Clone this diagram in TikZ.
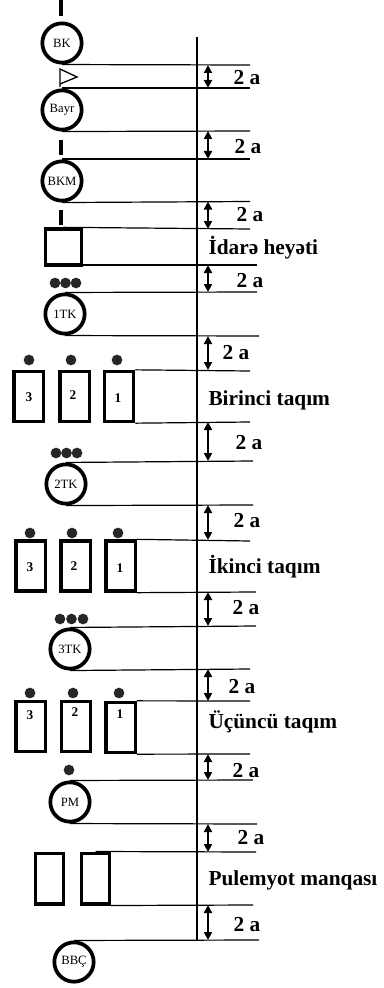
\documentclass[tikz,border=0pt]{standalone}
\usepackage{fontspec}
\setmainfont{Liberation Serif}
\usetikzlibrary{arrows.meta}

\tikzset{every picture/.style={line width=0.75pt}}
\tikzset{
  post/.style={circle,draw,line width=2.8pt,minimum size=29.5pt,inner sep=0pt,font=\fontsize{9.5}{10}\selectfont},
  carbox/.style={draw,line width=2.5pt,minimum width=22pt,minimum height=37.5pt,inner sep=0pt},
  mgbox/.style={draw,line width=2.5pt,minimum width=21pt,minimum height=38pt,inner sep=0pt},
  man/.style={circle,fill=black!85,minimum size=8pt,inner sep=0pt},
  num/.style={inner sep=0pt,font=\bfseries\fontsize{10}{10}\selectfont},
  rowline/.style={line width=0.9pt},
  gap/.style={{Triangle[width=6pt,length=6pt]}-{Triangle[width=6pt,length=6pt]},line width=1.5pt},
  gaptext/.style={anchor=west,inner sep=0pt,font=\bfseries\fontsize{16}{16}\selectfont},
  unittext/.style={anchor=west,inner sep=0pt,font=\bfseries\fontsize{16}{16}\selectfont}
}

\begin{document}
\begin{tikzpicture}[x=0.75pt,y=0.75pt,yscale=-1,xscale=1]
\useasboundingbox (0,0) rectangle (384,988);

%Straight Lines (axis)
\draw [line width=1.1pt] (197,37) -- (197,940) ;

%Shape: Circle  BK
\draw [line width=3.5pt] (61,0) -- (61,16) ;
\node [post] (bk) at (62,43) {BK};
\draw [rowline] (bk.south) -- (250,65) ;
%Flag
\draw [line width=1pt] (60,87) -- (60,69) -- (77,77) -- (60,84) ;
\draw [rowline] (62,88) -- (250,88) ;
\draw [gap] (208,65) -- (208,88) ;
\node [gaptext] (g1) at (233,78) {2 a};

%Shape: Circle  Bayr
\node [post] (bayr) at (62,110) {Bayr};
\draw [rowline] (bayr.south) -- (250,131) ;
\draw [line width=3.5pt] (61,140) -- (61,155) ;
\draw [gap] (208,131) -- (208,159) ;
\node [gaptext] (g2) at (234,147) {2 a};

%Shape: Circle  BKM
\draw [rowline] (62,159) -- (250,159) ;
\node [post] (bkm) at (62,181) {BKM};
\draw [rowline] (bkm.south) -- (250,201.5) ;
\draw [line width=3.5pt] (61,210) -- (61,225) ;
\draw [gap] (208,201.5) -- (208,229) ;
\node [gaptext] (g3) at (236,215) {2 a};

%Shape: Rectangle  idare
\node [draw,line width=2.5pt,minimum width=27pt,minimum height=27pt,inner sep=0pt] (hq) at (63.5,247) {};
\draw [rowline] (hq.north) -- (250,229) ;
\node [unittext] (t1) at (208,248) {İdarə heyəti};
\draw [rowline] (65,265) -- (257,265) ;
\draw [gap] (208,265) -- (208,292) ;
\node [gaptext] (g4) at (236,281) {2 a};

%Shape: Circle  1TK
\node [man] (d11) at (55,283) {};
\node [man] (d12) at (65.5,283) {};
\node [man] (d13) at (76,283) {};
\node [post] (tk1) at (65,314) {1TK};
\draw [rowline] (tk1.north) -- (257,292) ;
\draw [rowline] (tk1.south) -- (259,336) ;
\draw [gap] (208,336) -- (208,370) ;
\node [gaptext] (g5) at (222,353) {2 a};

%Birinci taqim
\node [man] (m13) at (29,360) {};
\node [man] (m12) at (71,360) {};
\node [man] (m11) at (117,360) {};
\node [carbox] (c13) at (28.5,396.5) {};
\node [carbox] (c12) at (74.5,396.5) {};
\node [carbox] (c11) at (119,396.5) {};
\node [num] at (29,397) {3};
\node [num] at (73,395) {2};
\node [num] at (118,398) {1};
\draw [rowline] (c11.north east) -- (250,371) ;
\draw [rowline] (c11.south east) -- (250,422) ;
\node [unittext] (t2) at (208,400) {Birinci taqım};
\draw [gap] (208,422) -- (208,461) ;
\node [gaptext] (g6) at (235,443) {2 a};

%Shape: Circle  2TK
\node [man] (d21) at (56,453) {};
\node [man] (d22) at (66.5,453) {};
\node [man] (d23) at (77,453) {};
\node [post] (tk2) at (66,484) {2TK};
\draw [rowline] (tk2.north) -- (253,461) ;
\draw [rowline] (tk2.south) -- (253,505) ;
\draw [gap] (208,505) -- (208,540) ;
\node [gaptext] (g7) at (233,521) {2 a};

%Ikinci taqim
\node [man] (m23) at (30,533) {};
\node [man] (m22) at (72,533) {};
\node [man] (m21) at (118,533) {};
\node [carbox] (c23) at (30.5,566) {};
\node [carbox] (c22) at (75.5,566) {};
\node [carbox] (c21) at (120.5,566) {};
\node [num] at (30,567) {3};
\node [num] at (74,566) {2};
\node [num] at (120,568) {1};
\draw [rowline] (c21.north east) -- (250,541) ;
\draw [rowline] (c21.south east) -- (256,592) ;
\node [unittext] (t3) at (208,567) {İkinci taqım};
\draw [gap] (208,592) -- (208,626) ;
\node [gaptext] (g8) at (232,608) {2 a};

%Shape: Circle  3TK
\node [man] (d31) at (60,619) {};
\node [man] (d32) at (71.5,619) {};
\node [man] (d33) at (83,619) {};
\node [post] (tk3) at (70,649) {3TK};
\draw [rowline] (tk3.north) -- (256,626) ;
\draw [rowline] (tk3.south) -- (250,669) ;
\draw [gap] (208,669) -- (208,701) ;
\node [gaptext] (g9) at (228,687) {2 a};

%Ucuncu taqim
\node [man] (m33) at (30,693) {};
\node [man] (m32) at (73,693) {};
\node [man] (m31) at (119,693) {};
\node [carbox] (c33) at (30.5,726.5) {};
\node [carbox] (c32) at (76,726.5) {};
\node [carbox] (c31) at (120.5,727.5) {};
\node [num] at (30,715) {3};
\node [num] at (75,712) {2};
\node [num] at (120,714) {1};
\draw [rowline] (c31.north east) -- (250,701) ;
\draw [rowline] (c31.south east) -- (250,754) ;
\node [unittext] (t4) at (208,722) {Üçüncü taqım};
\draw [gap] (208,754) -- (208,780) ;
\node [gaptext] (g10) at (232,771) {2 a};

%Shape: Circle  PM
\node [man] (dpm) at (69,770) {};
\node [post] (pm) at (70,802) {PM};
\draw [rowline] (pm.north) -- (253,780) ;
\draw [rowline] (pm.south) -- (257,824) ;
\draw [gap] (208,824) -- (208,852) ;
\node [gaptext] (g11) at (237,838) {2 a};

%Pulemyot manqasi
\node [mgbox] (p2) at (49.5,878.5) {};
\node [mgbox] (p1) at (95.5,878.5) {};
\draw [rowline] (p1.north) -- (256,852) ;
\draw [rowline] (p1.south east) -- (253,905) ;
\node [unittext] (t5) at (208,880) {Pulemyot manqası};
\draw [gap] (208,905) -- (208,940) ;
\node [gaptext] (g12) at (233,925) {2 a};

%Shape: Circle  BBC
\node [post] (bbc) at (74,962) {BBÇ};
\draw [rowline] (bbc.north) -- (259,940) ;

\end{tikzpicture}
\end{document}
